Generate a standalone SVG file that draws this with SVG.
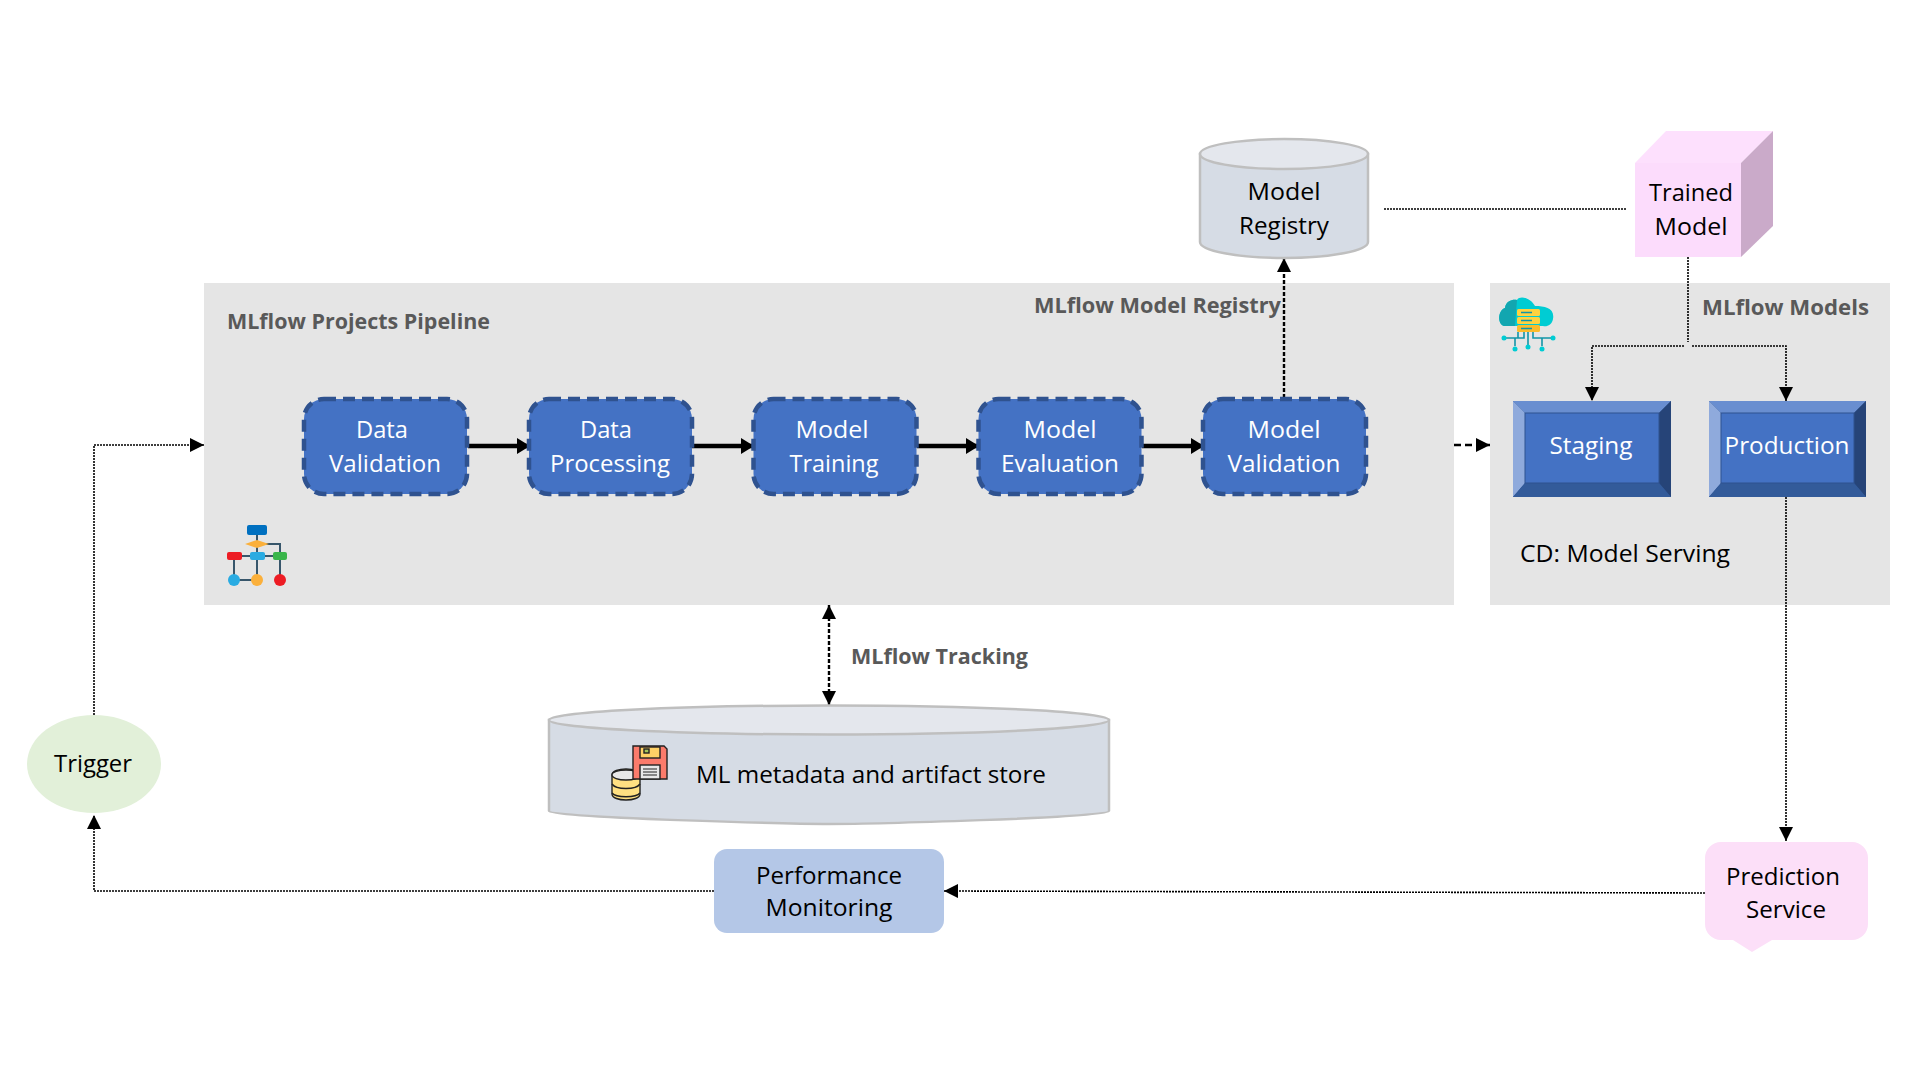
<svg xmlns="http://www.w3.org/2000/svg" width="1921" height="1081" viewBox="0 0 1921 1081">
<style>
text{font-family:"Open Sans","Noto Sans","Liberation Sans",sans-serif;font-size:23px;fill:#000;text-anchor:middle}
.w{fill:#fff}
.h{fill:#595959;font-weight:700;font-size:21px;text-anchor:start}
.panel{fill:#e5e5e5}
.step{fill:#4472c4;stroke:#2f528f;stroke-width:4.500;stroke-dasharray:12 7}
.cyl{fill:#d6dce5;stroke:#bfbfbf;stroke-width:2.5}
.top{fill:#e4e7ed;stroke:#bfbfbf;stroke-width:2.5}
.c{fill:none;stroke:#000;stroke-width:1.6;stroke-dasharray:2 1}
.c2{fill:none;stroke:#000;stroke-width:2.4;stroke-dasharray:4 2}
.s{fill:none;stroke:#000;stroke-width:4.500}
.ln{stroke:#37566b;stroke-width:2;fill:none}
.t{stroke:#1295a8;stroke-width:1.6;fill:none}
</style>
<defs>
<marker id="a" markerUnits="userSpaceOnUse" markerWidth="15" markerHeight="14" refX="14" refY="7" orient="auto-start-reverse"><path d="M0 0L14 7L0 14Z"/></marker>
<marker id="b" markerUnits="userSpaceOnUse" markerWidth="14" markerHeight="16" refX="13" refY="8" orient="auto"><path d="M0 0L13 8L0 16Z"/></marker>
</defs>
<rect width="1921" height="1081" fill="#fff"/>
<g id="panel-pipeline"><rect class="panel" x="204" y="283" width="1250" height="322"/><text class="h" x="227" y="329" textLength="263" lengthAdjust="spacingAndGlyphs">MLflow Projects Pipeline</text><text class="h" x="1034" y="313" textLength="247" lengthAdjust="spacingAndGlyphs">MLflow Model Registry</text>
<g id="icon-flow">
<path class="ln" d="M257 530V579M257 544H280V579M232 556H280M234 556V580M234 580H257M280 556V580"/>
<rect x="247" y="525" width="20" height="10" rx="2" fill="#0070c0"/><path d="M245 544L257 540L269 544L257 548Z" fill="#fbb03b"/>
<rect x="227" y="552" width="15" height="8" rx="2" fill="#ed1c24"/><rect x="250" y="552" width="15" height="8" rx="2" fill="#29abe2"/><rect x="273" y="552" width="14" height="8" rx="2" fill="#39b54a"/>
<circle cx="234" cy="580" r="6" fill="#29abe2"/><circle cx="257" cy="580" r="6" fill="#fbb03b"/><circle cx="280" cy="580" r="6" fill="#ed1c24"/>
</g></g>
<g id="panel-models"><rect class="panel" x="1490" y="283" width="400" height="322"/><text class="h" x="1702" y="315" textLength="167" lengthAdjust="spacingAndGlyphs">MLflow Models</text><text x="1625" y="562" textLength="210" lengthAdjust="spacingAndGlyphs">CD: Model Serving</text>
<g id="icon-cloud">
<path d="M1504 326C1497 324 1498 310 1505 308C1506 300 1514 299 1517 300C1520 295 1531 298 1535 306C1545 306 1555 308 1553 319C1552 325 1547 327 1543 326Z" fill="#00ccd3"/>
<path d="M1504 326C1497 324 1498 310 1505 308C1506 300 1514 299 1517 300L1515 326Z" fill="#12a6b0"/>
<rect x="1517" y="309" width="23" height="7" rx="1.500" fill="#ffd23f"/><rect x="1517" y="317" width="23" height="7" rx="1.500" fill="#ffd23f"/><rect x="1517" y="325" width="23" height="7" rx="1.500" fill="#fbbc2b"/>
<path d="M1521 312.500H1532M1521 320.500H1532M1521 328.500H1532" stroke="#1295a8" stroke-width="1.500"/>
<path class="t" d="M1504 338H1518V332M1528 332V347M1524 332V338H1515V346M1533 332V338H1542V346M1538 338H1553"/>
<g fill="#00ccd3"><circle cx="1504" cy="338" r="2.500"/><circle cx="1515" cy="349" r="2.500"/><circle cx="1528" cy="347" r="2.500"/><circle cx="1542" cy="349" r="2.500"/><circle cx="1553" cy="338" r="2.500"/></g>
</g></g>
<g id="connectors">
<path class="c" d="M1384 209H1626"/>
<path class="c" d="M1688 257V342"/>
<path class="c" d="M1684 346H1592V401" marker-end="url(#a)"/>
<path class="c" d="M1692 346H1786V401" marker-end="url(#a)"/>
<path class="c2" d="M1284 398V258" marker-end="url(#a)"/>
<path class="c2" style="stroke-dasharray:7 4" d="M1454 445H1490" marker-end="url(#a)"/>
<path class="c" d="M1786 497V841" marker-end="url(#a)"/>
<path class="c" d="M1708 893L944 891" marker-end="url(#a)"/>
<path class="c" d="M714 891H94V815" marker-end="url(#a)"/>
<path class="c" d="M94 715V445H204" marker-end="url(#a)"/>
<path class="c2" d="M829 605V705" marker-start="url(#a)" marker-end="url(#a)"/>
<path class="s" d="M468 446H530" marker-end="url(#b)"/>
<path class="s" d="M692 446H754" marker-end="url(#b)"/>
<path class="s" d="M917 446H979" marker-end="url(#b)"/>
<path class="s" d="M1142 446H1204" marker-end="url(#b)"/>
</g>
<g id="data-validation"><rect class="step" x="304" y="399" width="163" height="95" rx="20"/><text class="w" x="382" y="438" textLength="52" lengthAdjust="spacingAndGlyphs">Data</text><text class="w" x="385" y="472" textLength="112" lengthAdjust="spacingAndGlyphs">Validation</text></g>
<g id="data-processing"><rect class="step" x="529" y="399" width="163" height="95" rx="20"/><text class="w" x="606" y="438" textLength="52" lengthAdjust="spacingAndGlyphs">Data</text><text class="w" x="610" y="472" textLength="120" lengthAdjust="spacingAndGlyphs">Processing</text></g>
<g id="model-training"><rect class="step" x="753.500" y="399" width="163" height="95" rx="20"/><text class="w" x="832" y="438" textLength="73" lengthAdjust="spacingAndGlyphs">Model</text><text class="w" x="834" y="472" textLength="89" lengthAdjust="spacingAndGlyphs">Training</text></g>
<g id="model-evaluation"><rect class="step" x="978.500" y="399" width="163" height="95" rx="20"/><text class="w" x="1060" y="438" textLength="73" lengthAdjust="spacingAndGlyphs">Model</text><text class="w" x="1060" y="472" textLength="118" lengthAdjust="spacingAndGlyphs">Evaluation</text></g>
<g id="model-validation"><rect class="step" x="1203" y="399" width="163" height="95" rx="20"/><text class="w" x="1284" y="438" textLength="73" lengthAdjust="spacingAndGlyphs">Model</text><text class="w" x="1284" y="472" textLength="113" lengthAdjust="spacingAndGlyphs">Validation</text></g>
<g id="model-registry"><path class="cyl" d="M1200 154V242A84 16 0 0 0 1368 242V154Z"/><ellipse class="top" cx="1284" cy="154" rx="84" ry="15"/><text x="1284" y="200" textLength="73" lengthAdjust="spacingAndGlyphs">Model</text><text x="1284" y="234" textLength="90" lengthAdjust="spacingAndGlyphs">Registry</text></g>
<g id="trained-model"><path d="M1635 163L1666 131H1773L1741 163Z" fill="#fde0fd"/><path d="M1741 163L1773 131V226L1741 257Z" fill="#caaac9"/><rect x="1635" y="163" width="106" height="94" fill="#fcdcfc"/><text x="1691" y="201" textLength="84" lengthAdjust="spacingAndGlyphs">Trained</text><text x="1691" y="235" textLength="73" lengthAdjust="spacingAndGlyphs">Model</text></g>
<g id="staging"><rect x="1513" y="401" width="158" height="96" fill="#2f528f"/><path d="M1513 401H1671L1659 413H1525Z" fill="#698ed0"/><path d="M1513 401L1525 413V483L1513 497Z" fill="#8faadc"/><path d="M1671 401L1659 413V483L1671 497Z" fill="#264478"/><path d="M1513 497L1525 483H1659L1671 497Z" fill="#335b9a"/><rect x="1525" y="413" width="134" height="70" fill="#4472c4" stroke="#2f528f"/><text class="w" x="1591" y="454" textLength="83" lengthAdjust="spacingAndGlyphs">Staging</text></g>
<g id="production"><rect x="1709" y="401" width="157" height="96" fill="#2f528f"/><path d="M1709 401H1866L1854 413H1721Z" fill="#698ed0"/><path d="M1709 401L1721 413V483L1709 497Z" fill="#8faadc"/><path d="M1866 401L1854 413V483L1866 497Z" fill="#264478"/><path d="M1709 497L1721 483H1854L1866 497Z" fill="#335b9a"/><rect x="1721" y="413" width="133" height="70" fill="#4472c4" stroke="#2f528f"/><text class="w" x="1787" y="454" textLength="125" lengthAdjust="spacingAndGlyphs">Production</text></g>
<g id="metadata-store"><path class="cyl" d="M549 720V811C549 818 800 824 829 824C860 824 1109 818 1109 811V720Z"/><ellipse class="top" cx="829" cy="720" rx="280" ry="14.500"/>
<text x="871" y="783" textLength="350" lengthAdjust="spacingAndGlyphs">ML metadata and artifact store</text>
<g id="icon-store">
<g stroke="#222" stroke-width="1.400"><path d="M612 775C612 767 640 767 640 775V794C640 802 612 802 612 794Z" fill="#ffe082"/><ellipse cx="626" cy="775" rx="14" ry="5" fill="#e8e8e8"/><path d="M612 784C616 790 636 790 640 784M612 793C616 798 636 798 640 793" fill="none"/>
<path d="M633 746H664L667 749V779H633Z" fill="#fb7b6b"/><rect x="640" y="747" width="20" height="11" fill="#ffd166"/><rect x="644" y="749" width="5" height="4" fill="#a3c65a"/><rect x="640" y="765" width="20" height="14" fill="#e8e8e8"/><path d="M643 769H657M643 772H657M643 775H657" fill="none" stroke-width="1"/></g>
</g></g>
<text class="h" x="851" y="664" textLength="177" lengthAdjust="spacingAndGlyphs">MLflow Tracking</text>
<g id="trigger"><ellipse cx="94" cy="764" rx="67" ry="49" fill="#e2f0d9"/><text x="93" y="772" textLength="78" lengthAdjust="spacingAndGlyphs">Trigger</text></g>
<g id="performance-monitoring"><rect x="714" y="849" width="230" height="84" rx="13" fill="#b4c7e7"/><text x="829" y="884" textLength="146" lengthAdjust="spacingAndGlyphs">Performance</text><text x="829" y="916" textLength="127" lengthAdjust="spacingAndGlyphs">Monitoring</text></g>
<g id="prediction-service"><path d="M1721 842H1852A16 16 0 0 1 1868 858V924A16 16 0 0 1 1852 940H1772L1752 952L1733 940H1721A16 16 0 0 1 1705 924V858A16 16 0 0 1 1721 842Z" fill="#fcdff8"/><text x="1783" y="885" textLength="114" lengthAdjust="spacingAndGlyphs">Prediction</text><text x="1786" y="918" textLength="80" lengthAdjust="spacingAndGlyphs">Service</text></g>
</svg>
